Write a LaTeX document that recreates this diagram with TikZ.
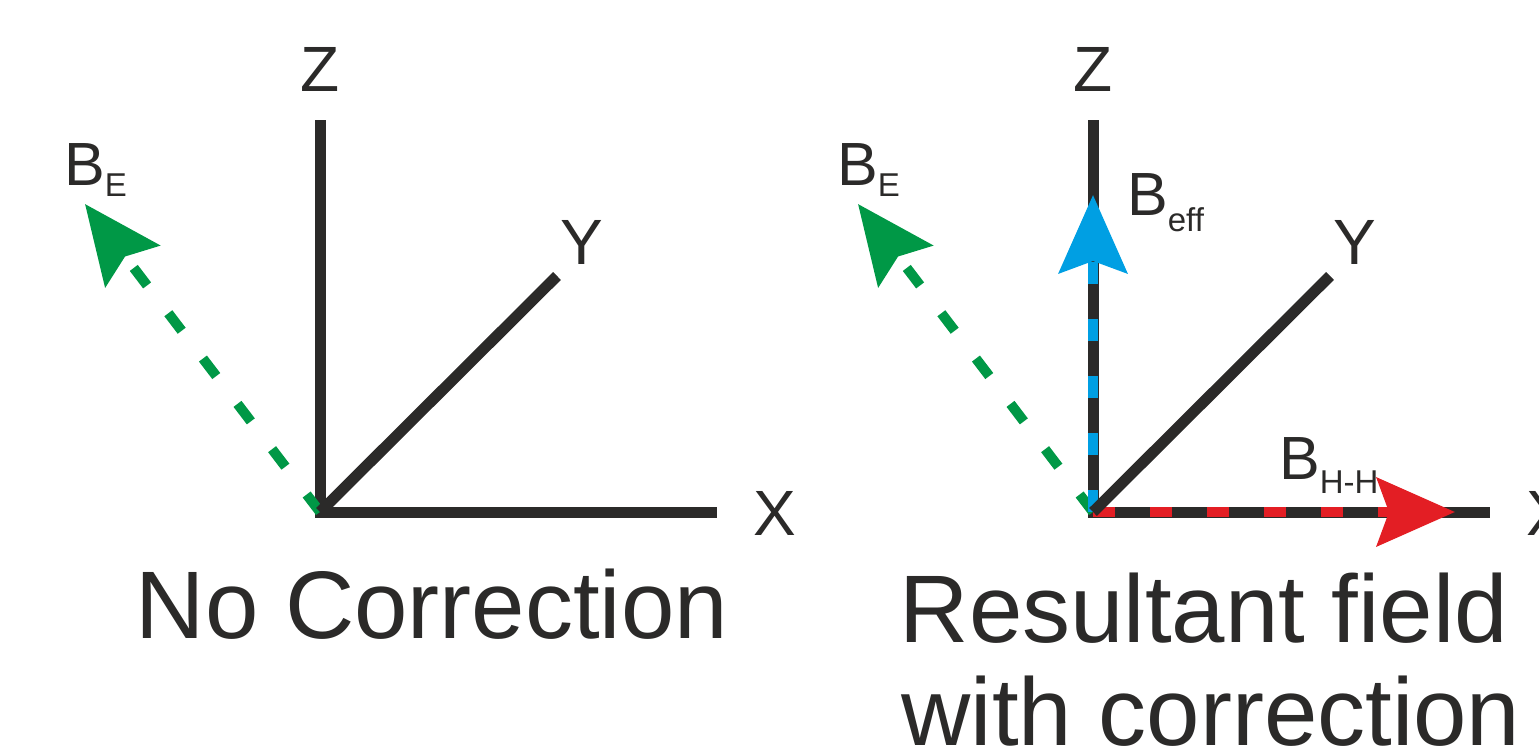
\documentclass[tikz,border=0pt]{standalone}
\usepackage{fontspec}
\setmainfont{Liberation Sans}
\usetikzlibrary{arrows.meta}
\definecolor{axisgray}{HTML}{2B2A29}
\definecolor{fieldgreen}{HTML}{009846}
\definecolor{fieldblue}{HTML}{009FE3}
\definecolor{fieldred}{HTML}{E31E24}

\begin{document}
\begin{tikzpicture}[x=1pt,y=-1pt,
    axis/.style={axisgray, line width=11pt},
    field/.style={line width=10pt, dash pattern=on 22pt off 35pt,
        -{Stealth[length=78pt,width=68pt,inset=12pt]}},
    lbl/.style={axisgray, inner sep=0pt, anchor=base, font=\fontsize{64}{64}\selectfont},
    sym/.style={axisgray, inner sep=0pt, anchor=base west, font=\fontsize{61}{61}\selectfont},
    caption/.style={axisgray, inner sep=0pt, anchor=base, font=\fontsize{96}{96}\selectfont}]
    \useasboundingbox (0,0) rectangle (1539,752);
    % both frames: Z and X axes, earth field
    \foreach \ox/\p in {0/L,773/R} {
        \coordinate (o\p) at (320+\ox,512);
        \coordinate (z\p) at (320+\ox,120);
        \coordinate (x\p) at (717+\ox,512);
        \coordinate (y\p) at (557+\ox,276);
        \coordinate (be\p) at (85+\ox,204);
        \draw[axis] (z\p) -- (o\p) -- (x\p);
        \draw[field, fieldgreen] (o\p) -- (be\p);
    }
    % corrected fields
    \coordinate (beff) at (1093,195);
    \coordinate (bhh) at (1455,512);
    \draw[field, fieldblue] (oR) -- (beff);
    \draw[field, fieldred] (oR) -- (bhh);
    % Y axes and labels
    \foreach \ox/\p in {0/L,773/R} {
        \draw[axis] (o\p) -- (y\p);
        \node[lbl] (zlab\p) at (320+\ox,92) {Z};
        \node[lbl] (ylab\p) at (582+\ox,264) {Y};
        \node[lbl] (xlab\p) at (775+\ox,535) {X};
        \node[sym] (belab\p) at (64+\ox,185) {B\raisebox{-11pt}{\fontsize{33}{33}\selectfont E}};
    }
    \node[sym] (befflab) at (1127,215) {B\raisebox{-16pt}{\fontsize{33}{33}\selectfont eff}};
    \node[sym] (bhhlab) at (1279,479) {B\raisebox{-14pt}{\fontsize{33}{33}\selectfont H-H}};
    \node[caption] (capL) at (432,638) {No Correction};
    \node[caption] (capR1) at (1204,642) {Resultant field};
    \node[caption] (capR2) at (1211,745) {with correction};
\end{tikzpicture}
\end{document}
